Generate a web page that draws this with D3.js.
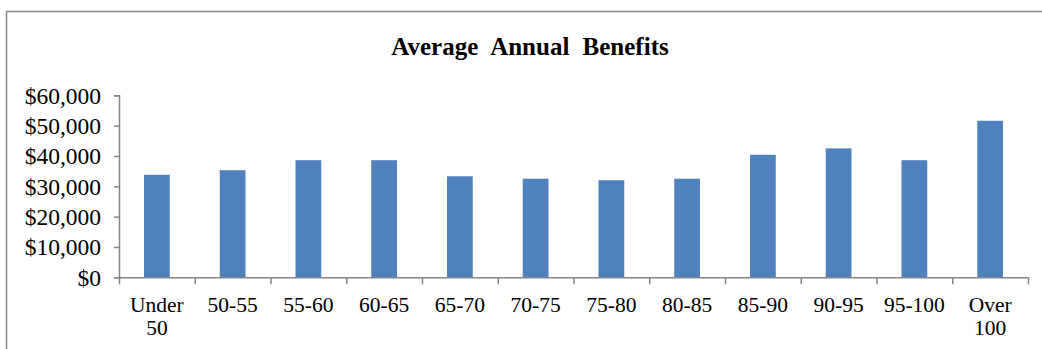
<!DOCTYPE html>
<html><head><meta charset="utf-8">
<script src="https://cdn.jsdelivr.net/npm/d3@7"></script>
<style>body{margin:0;background:#fff}svg{display:block}
svg text{font-family:'Liberation Serif','Times New Roman',Times,serif}</style>
</head><body>
<script>
const categories = [["Under","50"],["50-55"],["55-60"],["60-65"],["65-70"],["70-75"],["75-80"],["80-85"],["85-90"],["90-95"],["95-100"],["Over","100"]];
const values = [33800,35300,38600,38600,33300,32500,32000,32500,40400,42500,38600,51600];
const yTicks = [0,10000,20000,30000,40000,50000,60000];
const title = "Average Annual Benefits";

(function(){
const W=1042,H=349;
const svg=d3.select("body").append("svg").attr("width",W).attr("height",H);
svg.append("rect").attr("x",6.5).attr("y",11.5).attr("width",1100).attr("height",400)
  .attr("fill","none").attr("stroke","#8c8c8c").attr("stroke-width",1.5);

const pL=119,pR=1028,pT=95.3,pB=277.3;
const keys=categories.map(d=>d.join(" "));
const x=d3.scaleBand().domain(keys).range([pL,pR]).paddingInner(0.66).paddingOuter(0.33);
const y=d3.scaleLinear().domain([0,60000]).range([pB,pT]);

svg.append("text").attr("x",530).attr("y",55).attr("text-anchor","middle")
  .attr("font-weight","bold")
  .attr("font-size",25).attr("word-spacing",7).attr("fill","#000").text(title);

svg.selectAll("rect.bar").data(values).join("rect").attr("class","bar")
  .attr("x",(d,i)=>x(keys[i])).attr("width",x.bandwidth())
  .attr("y",d=>y(d)).attr("height",d=>y(0)-y(d)).attr("fill","#4F81BD");

const fmt=d=>"$"+d3.format(",")(d);
const ya=svg.append("g").attr("transform",`translate(${pL},0)`)
  .call(d3.axisLeft(y).tickValues(yTicks).tickFormat(fmt).tickSize(5).tickPadding(13));
ya.attr("font-family",null);
ya.select(".domain").attr("stroke","#868686").attr("stroke-width",1.5);
ya.selectAll(".tick line").attr("stroke","#868686").attr("stroke-width",1.5);
ya.selectAll("text").attr("font-size",23.5).attr("fill","#000").attr("dy","0.34em");

const xs=d3.scaleLinear().domain([0,keys.length]).range([pL,pR]);
const xa=svg.append("g").attr("transform",`translate(0,${pB})`)
  .call(d3.axisBottom(xs).tickValues(d3.range(keys.length+1)).tickSize(7).tickFormat(""));
xa.select(".domain").attr("stroke","#868686").attr("stroke-width",1.5).attr("d",`M${pL},0.5H${pR}`);
xa.selectAll(".tick line").attr("stroke","#868686").attr("stroke-width",1.5);

const lbl=svg.append("g").attr("font-size",21.5).attr("fill","#000").attr("text-anchor","middle");
categories.forEach((c,i)=>{
  const cx=x(keys[i])+x.bandwidth()/2;
  const t=lbl.append("text").attr("x",cx).attr("y",312);
  c.forEach((line,j)=>t.append("tspan").attr("x",cx).attr("dy",j?23:0).text(line));
});
})();
</script>
</body></html>
